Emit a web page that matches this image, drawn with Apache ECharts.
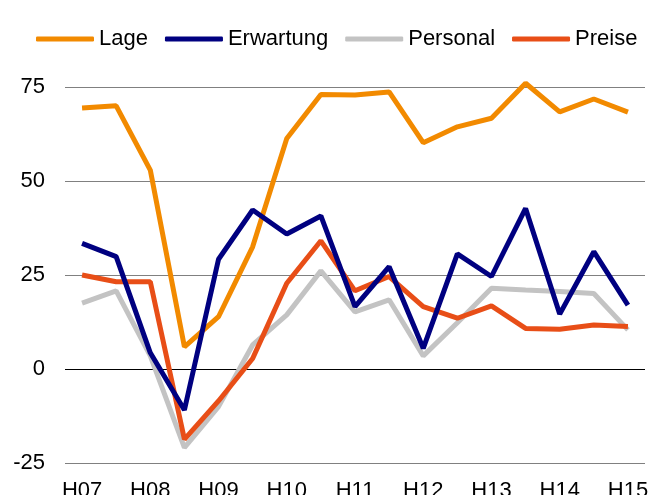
<!DOCTYPE html>
<html>
<head>
<meta charset="utf-8">
<script src="https://cdn.jsdelivr.net/npm/echarts@6/dist/echarts.min.js"></script>
<style>
  html, body { margin: 0; padding: 0; background: #fff; }
  #mainChart { width: 649px; height: 495px; }
</style>
</head>
<body>
<div id="mainChart"></div>
<script>
'use strict';

// half-year survey waves (H = Herbst, F = Frühjahr)
var categories = ['H07', 'F08', 'H08', 'F09', 'H09', 'F10', 'H10', 'F11', 'H11',
    'F12', 'H12', 'F13', 'H13', 'F14', 'H14', 'F15', 'H15'];
var yTicks = [-25, 0, 25, 50, 75];

var lage       = [69.4, 70.0, 52.9, 5.9, 13.9, 32.5, 61.3, 73.0, 72.9, 73.7, 60.2, 64.4, 66.7, 76.0, 68.4, 71.8, 68.3];
var erwartung  = [33.4, 29.9, 4.3, -10.9, 29.2, 42.3, 35.9, 40.7, 16.6, 27.2, 5.5, 30.6, 24.6, 42.7, 14.6, 31.2, 17.0];
var personal   = [17.5, 20.8, 3.5, -20.9, -10.0, 6.4, 14.4, 26.1, 15.2, 18.4, 3.5, 12.3, 21.5, 21.0, 20.6, 20.1, 10.4];
var preise     = [25.0, 23.2, 23.2, -18.7, -8.5, 2.8, 22.8, 34.1, 20.8, 24.6, 16.6, 13.5, 16.8, 10.8, 10.6, 11.7, 11.3];

var fontName = '"Liberation Sans", Arial, Helvetica, sans-serif';

window.onload = function() {
    var myChart = echarts.init(document.getElementById('mainChart'));

    function makeLine(name, data, color, z) {
        return {
            name: name,
            type: 'line',
            data: data,
            symbol: 'none',
            clip: false,
            animation: false,
            z: z,
            lineStyle: { color: color, width: 5 },
            itemStyle: { color: color }
        };
    }

    var seriesList = [
        makeLine('Lage', lage, '#F28A00', 3),
        makeLine('Erwartung', erwartung, '#000080', 5),
        makeLine('Personal', personal, '#C3C3C3', 2),
        makeLine('Preise', preise, '#E84E17', 4)
    ];
    // black zero line under the series
    seriesList[0].markLine = {
        silent: true,
        symbol: 'none',
        label: { show: false },
        lineStyle: { color: '#000', type: 'solid', width: 1 },
        data: [{ yAxis: 0 }],
        z: 1
    };

    var option = {
        backgroundColor: '#fff',
        textStyle: { fontFamily: fontName },
        legend: {
            data: ['Lage', 'Erwartung', 'Personal', 'Preise'],
            left: 31,
            top: 23,
            icon: 'roundRect',
            itemWidth: 58,
            itemHeight: 5,
            itemGap: 17,
            textStyle: { fontSize: 22, color: '#000', fontFamily: fontName }
        },
        grid: {
            left: 65, right: 4, top: 87, bottom: 32,
            containLabel: false,
            outerBoundsMode: 'none'
        },
        xAxis: {
            type: 'category',
            data: categories,
            boundaryGap: true,
            axisLine: { show: false },
            axisTick: { show: false },
            axisLabel: {
                interval: 1,
                margin: 17,
                fontSize: 22,
                color: '#000',
                fontFamily: fontName
            }
        },
        yAxis: {
            type: 'value',
            min: yTicks[0],
            max: yTicks[yTicks.length - 1],
            interval: 25,
            axisLine: { show: false },
            axisTick: { show: false },
            axisLabel: { margin: 20, fontSize: 22, color: '#000', fontFamily: fontName },
            splitLine: { lineStyle: { color: '#808080', width: 1 } }
        },
        series: seriesList
    };

    myChart.setOption(option);
};
</script>
</body>
</html>
